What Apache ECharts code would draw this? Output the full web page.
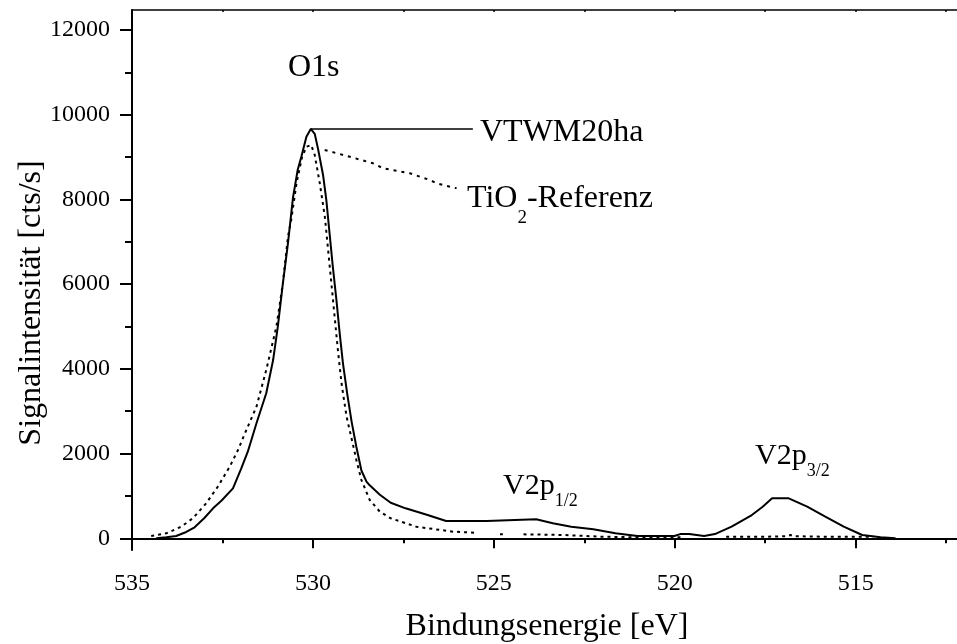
<!DOCTYPE html>
<html>
<head>
<meta charset="utf-8">
<script src="https://cdn.jsdelivr.net/npm/echarts@6/dist/echarts.min.js"></script>
<style>
html,body{margin:0;padding:0;background:#fff;}
#c{width:957px;height:644px;}
</style>
</head>
<body>
<div id="c"></div>
<script>
// ---- data (binding energy [eV], intensity [cts/s]) ----
const vtwm = [
[534.33,0],[534.05,24],[533.78,54],[533.50,150],[533.27,260],[533.00,480],[532.76,708],[532.53,888],
[532.21,1180],[531.98,1652],[531.80,2044],[531.56,2715],[531.29,3423],[531.10,4209],[530.97,4995],
[530.83,6020],[530.69,6964],[530.55,8050],[530.42,8700],[530.32,9008],[530.18,9480],[530.06,9665],
[529.95,9550],[529.86,9200],[529.72,8577],[529.63,7990],[529.54,7200],[529.45,6412],[529.35,5625],
[529.26,4840],[529.17,4130],[529.05,3400],[528.93,2750],[528.80,2162],[528.66,1600],[528.52,1340],
[528.43,1250],[528.15,1030],[527.85,840],[527.44,708],[526.83,550],[526.32,408],[525.20,408],
[525.15,448],[523.83,448],[523.37,354],[522.86,274],[522.25,212],[521.64,118],[521.03,54],
[520.01,54],[519.85,100],[519.60,100],[519.55,54],[519.19,54],[518.89,100],[518.43,274],
[517.87,550],[517.57,746],[517.31,944],[516.85,944],[516.34,746],[515.84,510],[515.33,274],
[514.82,78],[514.31,24],[513.90,0]
];
const tio2 = [
[534.47,54],[534.05,118],[533.64,274],[533.32,472],[532.95,826],[532.63,1218],[532.30,1690],
[532.07,2084],[531.84,2557],[531.56,3107],[531.29,3973],[531.01,4995],[530.83,6020],[530.69,7120],
[530.60,7515],[530.45,8400],[530.30,9000],[530.18,9245],[530.05,9285],[529.95,9050],[529.81,8380],
[529.67,7590],[529.58,6806],[529.49,6020],[529.40,5231],[529.31,4445],[529.21,3660],[529.07,2870],
[528.89,2200],[528.80,1850],[528.66,1376],[528.43,904],[528.15,628],[527.85,472],[527.14,274],
[526.12,156],[525.51,132],[525.45,null],[524.83,94],[524.75,94],[524.70,null],[524.18,94],
[523.06,78],[522.05,38],[521.03,24],[520.01,24],[519.75,24],[519.70,null],[518.58,38],[517.46,38],
[516.90,50],[516.80,78],[516.70,50],[515.94,38],[514.92,38],[514.51,38]
];
const vtwmLeader = [[530.07,9665],[525.58,9665]];
const tio2Leader = [[529.675,9167],[528.98,9008],[528.34,8853],[528.06,8735],[527.32,8617],
[526.77,8459],[526.58,8381],[526.03,8262]];

const xMajor = [535,530,525,520,515];
const xMinor = [532.5,527.5,522.5,517.5,512.5];
const xTop = [535,532.5,530,527.5,525,522.5,520,517.5,515,512.5];
const yMajor = [0,2000,4000,6000,8000,10000,12000];
const yMinor = [1000,3000,5000,7000,9000,11000];

const xTitle = 'Bindungsenergie [eV]';
const yTitle = 'Signalintensität [cts/s]';

// ---- rendering ----
const FONT = '"Liberation Serif","Times New Roman",serif';
const cv = document.createElement('canvas').getContext('2d');
function w(str, size){ cv.font = size + 'px ' + FONT; return cv.measureText(str).width; }
function txt(x, base, str, size, align){
  return {type:'text', x:x, y: base - 0.305*size, silent:true,
    style:{text:str, font: size+'px '+FONT, fill:'#000', align: align||'left', verticalAlign:'middle'}};
}
// chain of [text, size, baselineShift]
function chain(x, base, parts){
  const out = []; let cx = x;
  parts.forEach(p => { out.push(txt(cx, base + (p[2]||0), p[0], p[1])); cx += w(p[0], p[1]); });
  return out;
}

const graphics = [].concat(
  [txt(288, 77, 'O1s', 32)],
  [txt(480, 142, 'VTWM20ha', 32)],
  chain(467, 208, [['TiO',32],['2',19,16],['-Referenz',32]]),
  chain(503, 495, [['V2p',30],['1/2',18,12]]),
  chain(755, 465, [['V2p',30],['3/2',18,12]]),
  [txt(547, 636, xTitle, 32, 'center')],
  [{type:'text', x:32, y:303, rotation:Math.PI/2, silent:true,
    style:{text:yTitle, font:'32px '+FONT, fill:'#000', align:'center', verticalAlign:'middle'}}]
);

const plain = v => String(v);
const axLine = {show:true, lineStyle:{color:'#000', width:2}};
const noLine = {show:false};
const chart = echarts.init(document.getElementById('c'), null, {renderer:'canvas'});
chart.setOption({
  animation:false,
  backgroundColor:'#fff',
  grid:{left:132, right:0, top:10, bottom:94, containLabel:false},
  xAxis:[
    {type:'value', inverse:true, min:512.2, max:535, position:'bottom', axisLine:axLine,
     splitLine:{show:false},
     axisTick:{show:true, inside:false, length:10, customValues:xMajor, lineStyle:{color:'#000', width:2}},
     axisLabel:{show:true, customValues:xMajor, formatter:plain, margin:22, color:'#000', fontSize:24, fontFamily:FONT}},
    {type:'value', inverse:true, min:512.2, max:535, position:'bottom', axisLine:noLine,
     splitLine:{show:false},
     axisTick:{show:true, inside:false, length:5, customValues:xMinor, lineStyle:{color:'#000', width:2}},
     axisLabel:{show:false}},
    {type:'value', inverse:true, min:512.2, max:535, position:'top', axisLine:{show:true, lineStyle:{color:'#000', width:1.5}},
     splitLine:{show:false},
     axisTick:{show:true, inside:true, length:2, customValues:xTop, lineStyle:{color:'#000', width:1.5}},
     axisLabel:{show:false}}
  ],
  yAxis:[
    {type:'value', min:-276, max:12472, position:'left', axisLine:axLine, splitLine:{show:false},
     axisTick:{show:true, inside:false, length:12, customValues:yMajor, lineStyle:{color:'#000', width:2}},
     axisLabel:{show:true, customValues:yMajor, formatter:plain, margin:22, color:'#000', fontSize:24, fontFamily:FONT}},
    {type:'value', min:-276, max:12472, position:'left', axisLine:noLine, splitLine:{show:false},
     axisTick:{show:true, inside:false, length:7, customValues:yMinor, lineStyle:{color:'#000', width:2}},
     axisLabel:{show:false}}
  ],
  series:[
    {type:'line', data:vtwm, showSymbol:false, symbol:'none', lineStyle:{color:'#000', width:2}, z:3},
    {type:'line', data:tio2, showSymbol:false, symbol:'none', connectNulls:false,
     lineStyle:{color:'#000', width:2, type:[3,4]}, z:2},
    {type:'line', data:vtwmLeader, showSymbol:false, symbol:'none', lineStyle:{color:'#000', width:1.5}, z:3},
    {type:'line', data:tio2Leader, showSymbol:false, symbol:'none', lineStyle:{color:'#000', width:2, type:[3,5]}, z:2}
  ],
  graphic: graphics
});
</script>
</body>
</html>
